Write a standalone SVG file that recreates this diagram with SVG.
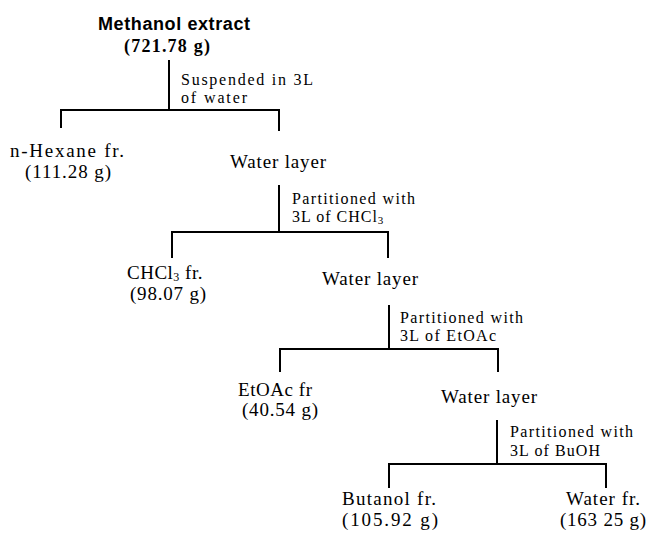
<svg xmlns="http://www.w3.org/2000/svg" width="650" height="534" viewBox="0 0 650 534">
<style>
.t{font-family:"Liberation Serif","Times New Roman",serif;font-size:19px;fill:#000}
.l{font-family:"Liberation Serif","Times New Roman",serif;font-size:16px;fill:#000}
.h{font-family:"Liberation Sans",Arial,sans-serif;font-size:18px;font-weight:bold;fill:#000}
.hb{font-family:"Liberation Serif","Times New Roman",serif;font-size:18px;font-weight:bold;fill:#000}
.c line{stroke:#000;stroke-width:2;fill:none}
</style>
<rect width="650" height="534" fill="#fff"/>
<g class="c" id="connectors">
<line x1="169" y1="60" x2="169" y2="111"/>
<line x1="60" y1="110" x2="280" y2="110"/>
<line x1="61" y1="109" x2="61" y2="128"/>
<line x1="279" y1="109" x2="279" y2="131"/>
<line x1="279" y1="185" x2="279" y2="233"/>
<line x1="171" y1="232" x2="389" y2="232"/>
<line x1="172" y1="231" x2="172" y2="258"/>
<line x1="388" y1="231" x2="388" y2="258"/>
<line x1="389" y1="305" x2="389" y2="350"/>
<line x1="279" y1="349" x2="499" y2="349"/>
<line x1="280" y1="348" x2="280" y2="372"/>
<line x1="498" y1="348" x2="498" y2="372"/>
<line x1="497" y1="420" x2="497" y2="465"/>
<line x1="388" y1="464" x2="607" y2="464"/>
<line x1="389" y1="463" x2="389" y2="488"/>
<line x1="606" y1="463" x2="606" y2="488"/>
</g>
<g id="methanol">
<text class="h" x="98" y="30" textLength="152" lengthAdjust="spacing">Methanol extract</text>
<text class="hb" x="124" y="52" textLength="86" lengthAdjust="spacing">(721.78 g)</text>
</g>
<g id="step1">
<text class="l" x="181" y="85" textLength="132" lengthAdjust="spacing">Suspended in 3L</text>
<text class="l" x="181" y="103" textLength="66" lengthAdjust="spacing">of water</text>
</g>
<g id="hexane">
<text class="t" x="10" y="157" textLength="114" lengthAdjust="spacing">n-Hexane fr.</text>
<text class="t" x="25" y="178" textLength="86" lengthAdjust="spacing">(111.28 g)</text>
</g>
<g id="water1">
<text class="t" x="230" y="168" textLength="96" lengthAdjust="spacing">Water layer</text>
</g>
<g id="step2">
<text class="l" x="292" y="204" textLength="123" lengthAdjust="spacing">Partitioned with</text>
<text class="l" x="292" y="222" letter-spacing="1">3L of CHCl<tspan font-size="11" dy="2">3</tspan></text>
</g>
<g id="chcl3">
<text class="t" x="127" y="279" letter-spacing="0.5">CHCl<tspan font-size="12" dy="2">3</tspan><tspan dy="-2"> fr.</tspan></text>
<text class="t" x="130" y="300" textLength="76" lengthAdjust="spacing">(98.07 g)</text>
</g>
<g id="water2">
<text class="t" x="322" y="285" textLength="96" lengthAdjust="spacing">Water layer</text>
</g>
<g id="step3">
<text class="l" x="400" y="323" textLength="123" lengthAdjust="spacing">Partitioned with</text>
<text class="l" x="400" y="341" textLength="96" lengthAdjust="spacing">3L of EtOAc</text>
</g>
<g id="etoac">
<text class="t" x="238" y="396" textLength="74" lengthAdjust="spacing">EtOAc fr</text>
<text class="t" x="242" y="416" textLength="76" lengthAdjust="spacing">(40.54 g)</text>
</g>
<g id="water3">
<text class="t" x="441" y="403" textLength="96" lengthAdjust="spacing">Water layer</text>
</g>
<g id="step4">
<text class="l" x="510" y="437" textLength="123" lengthAdjust="spacing">Partitioned with</text>
<text class="l" x="510" y="456" textLength="90" lengthAdjust="spacing">3L of BuOH</text>
</g>
<g id="butanol">
<text class="t" x="342" y="505" textLength="94" lengthAdjust="spacing">Butanol fr.</text>
<text class="t" x="342" y="526" textLength="96" lengthAdjust="spacing">(105.92 g)</text>
</g>
<g id="waterfr">
<text class="t" x="566" y="505" textLength="74" lengthAdjust="spacing">Water fr.</text>
<text class="t" x="560" y="526" textLength="86" lengthAdjust="spacing">(163 25 g)</text>
</g>
</svg>
